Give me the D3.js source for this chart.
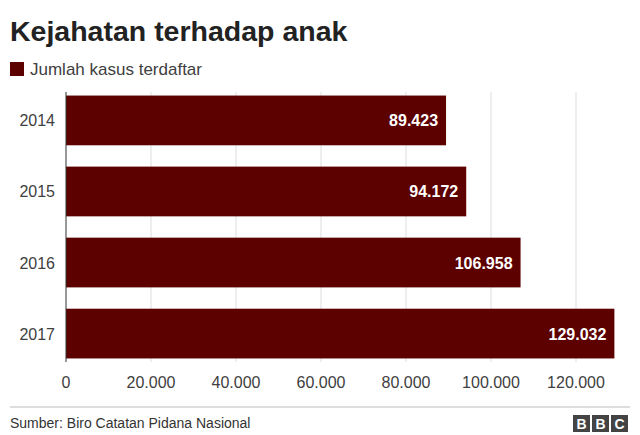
<!DOCTYPE html>
<html><head><meta charset="utf-8">
<script src="https://cdn.jsdelivr.net/npm/d3@7"></script>
<style>body{margin:0;background:#fff;font-family:"Liberation Sans",Arial,sans-serif;}</style>
</head><body>
<svg id="c" width="640" height="435"></svg>
<script>
var years = ["2014", "2015", "2016", "2017"];
var cases = [89423, 94172, 106958, 129032];
var ticks = [0, 20000, 40000, 60000, 80000, 100000, 120000];

var svg = d3.select("#c");
var color = "#5c0000";
var fmt = function(v) { return d3.format(",")(v).replace(/,/g, "."); };

svg.append("text").attr("x", 10).attr("y", 41).attr("font-size", 28.5).attr("font-weight", "bold")
	.attr("fill", "#222").text("Kejahatan terhadap anak");
svg.append("rect").attr("x", 10).attr("y", 62).attr("width", 14).attr("height", 14).attr("fill", color);
svg.append("text").attr("x", 30).attr("y", 75).attr("font-size", 17).attr("fill", "#404040").text("Jumlah kasus terdaftar");

var x = d3.scaleLinear().domain([0, 120000]).range([66, 576]);
var y = d3.scaleBand().domain(years).range([92, 362]).paddingInner(0.3).paddingOuter(0.05);

svg.selectAll(".grid").data(ticks.slice(1)).enter().append("line")
	.attr("x1", function(d) { return x(d); }).attr("x2", function(d) { return x(d); })
	.attr("y1", 92).attr("y2", 362).attr("stroke", "#ddd");

svg.selectAll(".bar").data(cases).enter().append("rect")
	.attr("x", x(0)).attr("y", function(d, i) { return y(years[i]); })
	.attr("width", function(d) { return x(d) - x(0); }).attr("height", y.bandwidth())
	.attr("fill", color);

svg.selectAll(".val").data(cases).enter().append("text")
	.attr("x", function(d) { return x(d) - 8; })
	.attr("y", function(d, i) { return y(years[i]) + y.bandwidth() / 2 + 6; })
	.attr("text-anchor", "end").attr("font-size", 16).attr("font-weight", "bold").attr("fill", "#fff")
	.text(fmt);

svg.append("line").attr("x1", 66).attr("x2", 66).attr("y1", 92).attr("y2", 362).attr("stroke", "#333");

svg.selectAll(".yl").data(years).enter().append("text")
	.attr("x", 55).attr("y", function(d) { return y(d) + y.bandwidth() / 2 + 6; })
	.attr("text-anchor", "end").attr("font-size", 16).attr("fill", "#404040").text(function(d) { return d; });

svg.selectAll(".xl").data(ticks).enter().append("text")
	.attr("x", function(d) { return x(d); }).attr("y", 388)
	.attr("text-anchor", "middle").attr("font-size", 16).attr("fill", "#404040").text(fmt);

svg.append("line").attr("x1", 10).attr("x2", 630).attr("y1", 407).attr("y2", 407).attr("stroke", "#bbb");
svg.append("text").attr("x", 10).attr("y", 428).attr("font-size", 14).attr("fill", "#333").text("Sumber: Biro Catatan Pidana Nasional");

var logo = svg.append("g").attr("transform", "translate(573,415)");
["B", "B", "C"].forEach(function(c, i) {
	logo.append("rect").attr("x", i * 19).attr("y", 0).attr("width", 17).attr("height", 17).attr("fill", "#444");
	logo.append("text").attr("x", i * 19 + 8.5).attr("y", 14).attr("text-anchor", "middle")
		.attr("font-size", 14).attr("font-weight", "bold").attr("fill", "#fff").text(c);
});
</script>
</body></html>
